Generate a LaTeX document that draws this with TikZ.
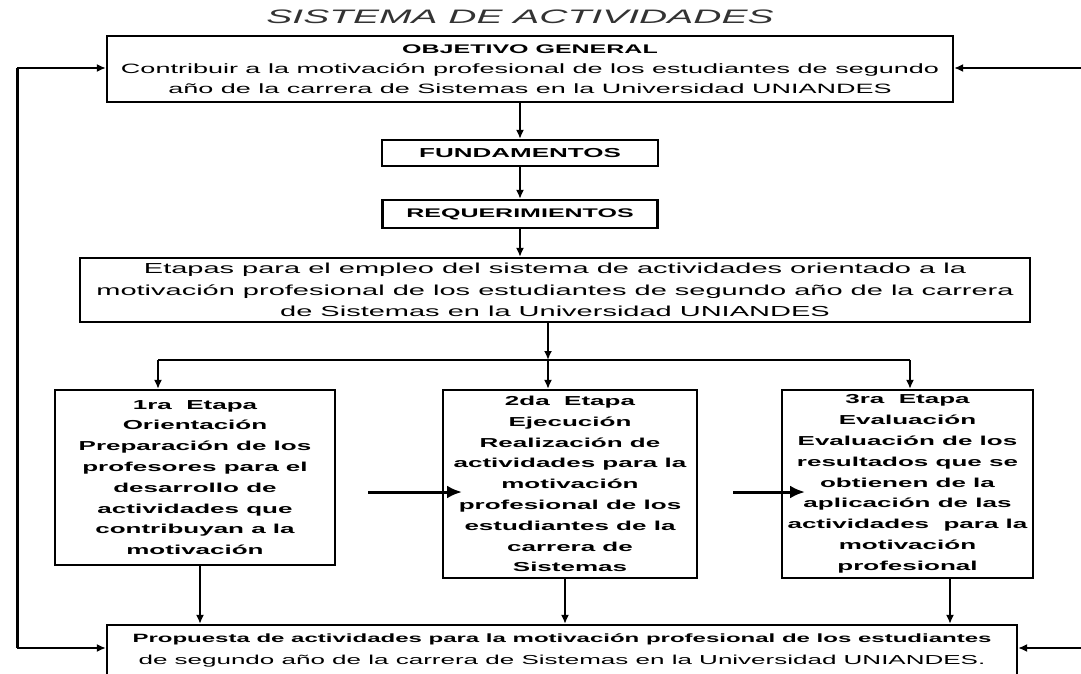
\documentclass[tikz,border=0pt]{standalone}
\usepackage{fontspec}
\setmainfont{Liberation Sans}[FakeStretch=2.0]
\usepackage{tikz}
\usetikzlibrary{arrows.meta}
\tikzset{
  box/.style={draw, line width=2.2pt, align=center, inner sep=2pt},
  arr/.style={line width=2.8pt, -{Latex[length=9pt,width=8pt]}},
  bigarr/.style={line width=3pt, -{Latex[length=15pt,width=13pt]}},
  lnk/.style={line width=1.6pt},
  stage/.style={box, minimum width=252pt, minimum height=188pt,
    font=\bfseries\fontsize{13}{20.8}\selectfont}
}

\begin{document}
\begin{tikzpicture}[x=1pt,y=-1pt]
\useasboundingbox (0,0) rectangle (1081,674);
\clip (0,0) rectangle (1081,674);
\fill[white] (0,0) rectangle (1081,674);

% title
\node[font=\itshape\fontsize{19.5}{22}\selectfont, text=black!80] (ttl) at (520,17) {SISTEMA DE ACTIVIDADES};

% objective
\node[box, minimum width=846pt, minimum height=66pt, font=\fontsize{13.5}{20}\selectfont] (obj) at (530,69)
  {{\bfseries\fontsize{12.5}{20}\selectfont OBJETIVO GENERAL}\\
   Contribuir a la motivación profesional de los estudiantes de segundo\\
   año de la carrera de Sistemas en la Universidad UNIANDES};

\node[box, minimum width=276pt, minimum height=26pt, font=\bfseries\fontsize{13}{16}\selectfont] (fund) at (520,153) {FUNDAMENTOS};
\node[box, minimum width=275pt, minimum height=28pt, font=\bfseries\fontsize{12.5}{16}\selectfont] (req) at (520,214) {REQUERIMIENTOS};

% stages overview
\node[box, minimum width=950pt, minimum height=64pt, font=\fontsize{14.5}{21.5}\selectfont] (etapas) at (555,290)
  {Etapas para el empleo del sistema de actividades orientado a la\\
   motivación profesional de los estudiantes de segundo año de la carrera\\
   de Sistemas en la Universidad UNIANDES};

% the three stages
\node[stage, minimum width=280pt, minimum height=175pt] (b1) at (195,477.5)
  {1ra\ \ Etapa\\ Orientación\\ Preparación de los\\ profesores para el\\
   desarrollo de\\ actividades que\\ contribuyan a la\\ motivación};
\node[stage, minimum width=254pt] (b2) at (570,484)
  {2da\ \ Etapa\\ Ejecución\\ Realización de\\ actividades para la\\ motivación\\
   profesional de los\\ estudiantes de la\\ carrera de\\ Sistemas};
\node[stage, minimum width=251pt] (b3) at (907.5,484)
  {3ra\ \ Etapa\\ Evaluación\\ Evaluación de los\\ resultados que se\\ obtienen de la\\
   aplicación de las\\ actividades\ \ para la\\ motivación\\ profesional};

% proposal
\node[box, minimum width=910pt, minimum height=50pt, font=\fontsize{13}{22}\selectfont] (prop) at (562,650)
  {{\bfseries\fontsize{12}{22}\selectfont Propuesta de actividades para la motivación profesional de los estudiantes}\\
   de segundo año de la carrera de Sistemas en la Universidad UNIANDES.};

% vertical chain
\draw[arr] (fund.north |- obj.south) -- (fund.north);
\draw[arr] (fund.south) -- (req.north);
\draw[arr] (req.south) -- (req.south |- etapas.north);

% split to stages
\coordinate (j1) at (158,360);
\coordinate (j2) at (548,360);
\coordinate (j3) at (910,360);
\draw[arr] (etapas.south -| j2) -- (j2);
\draw[lnk] (j1) -- (j3);
\draw[arr] (j1) -- (j1 |- b1.north);
\draw[arr] (j2) -- (j2 |- b2.north);
\draw[arr] (j3) -- (j3 |- b3.north);

% stage to stage
\coordinate (h1) at (368,492);
\coordinate (h2) at (462,492);
\coordinate (h3) at (733,492);
\coordinate (h4) at (805,492);
\draw[bigarr] (h1) -- (h2);
\draw[bigarr] (h3) -- (h4);

% stages to proposal
\coordinate (d1) at (200,0);
\coordinate (d2) at (565,0);
\coordinate (d3) at (950,0);
\draw[arr] (b1.south -| d1) -- (prop.north -| d1);
\draw[arr] (b2.south -| d2) -- (prop.north -| d2);
\draw[arr] (b3.south -| d3) -- (prop.north -| d3);

% feedback left
\coordinate (lt) at (17,68);
\coordinate (lb) at (17,648);
\draw[arr] (lt) -- (lt -| obj.west);
\draw[line width=3pt] (lt) -- (lb);
\draw[arr] (lb) -- (lb -| prop.west);

% feedback right
\coordinate (rt) at (1081,68);
\coordinate (rb) at (1081,648);
\draw[arr] (rt) -- (rt -| obj.east);
\draw[arr] (rb) -- (rb -| prop.east);
\end{tikzpicture}
\end{document}
